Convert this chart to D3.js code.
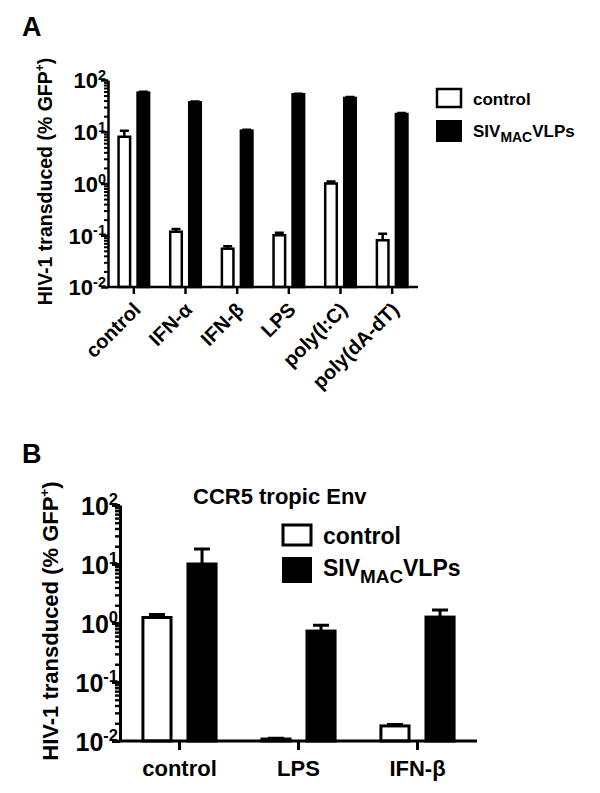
<!DOCTYPE html>
<html>
<head>
<meta charset="utf-8">
<script src="https://cdn.jsdelivr.net/npm/d3@7"></script>
<style>
  body { margin: 0; background: #fff; }
  svg text { font-family: "Liberation Sans", Arial, Helvetica, sans-serif; font-weight: bold; fill: #000; }
</style>
</head>
<body>
<svg width="600" height="793"></svg>
<script>
// panel A data
const catsA = ["control", "IFN-α", "IFN-β", "LPS", "poly(I:C)", "poly(dA-dT)"];
const ctrlA = [8.0, 0.117, 0.055, 0.10, 1.0, 0.08];
const ctrlErrA = [2.5, 0.015, 0.006, 0.012, 0.09, 0.027];
const sivA = [57, 37, 10.5, 53, 45, 22];
const sivErrA = [2, 1.5, 0.4, 1.5, 2, 1];

// panel B data
const catsB = ["control", "LPS", "IFN-β"];
const ctrlB = [1.24, 0.0108, 0.018];
const ctrlErrB = [0.16, 0.0003, 0.001];
const sivB = [10, 0.73, 1.26];
const sivErrB = [8, 0.19, 0.4];

const series = ["control", "siv"];
const majorTicks = [0.01, 0.1, 1, 10, 100];
const majorExp = ["-2", "-1", "0", "1", "2"];

const svg = d3.select("svg");

function panel(opt) {
    var g = svg.append("g");

    var x = d3.scaleBand().domain(opt.cats).range(opt.xr)
        .paddingInner(opt.padIn).paddingOuter(opt.padOut);
    var xs = d3.scaleBand().domain(series).range([0, x.bandwidth()]).paddingInner(opt.subPad);
    var y = d3.scaleLog().domain([0.01, 100]).range(opt.yr);

    var minors = [];
    for (var e = -2; e < 2; e++) {
        for (var m = 2; m <= 9; m++) minors.push(m * Math.pow(10, e));
    }

    var rows = opt.cats.map(function (c, i) {
        return [
            { cat: c, s: "control", v: opt.ctrl[i], err: opt.ctrlErr[i] },
            { cat: c, s: "siv", v: opt.siv[i], err: opt.sivErr[i] }
        ];
    }).flat();

    // error bars (upper only)
    g.selectAll(".err").data(rows).enter().append("path")
        .attr("d", function (d) {
            var cx = x(d.cat) + xs(d.s) + xs.bandwidth() / 2;
            var yt = y(d.v + d.err), yv = y(d.v);
            var hw = opt.cap / 2;
            return "M" + cx + "," + yv + "V" + yt + "M" + (cx - hw) + "," + yt + "H" + (cx + hw);
        })
        .attr("stroke", "#000").attr("stroke-width", opt.lw).attr("fill", "none");

    // bars
    g.selectAll(".bar").data(rows).enter().append("rect")
        .attr("x", function (d) { return x(d.cat) + xs(d.s) + opt.lw / 2; })
        .attr("width", xs.bandwidth() - opt.lw)
        .attr("y", function (d) { return y(d.v); })
        .attr("height", function (d) { return y(0.01) - y(d.v); })
        .attr("fill", function (d) { return d.s === "siv" ? "#000" : "#fff"; })
        .attr("stroke", "#000").attr("stroke-width", opt.lw);

    // y axis
    var ya = g.append("g").attr("transform", "translate(" + opt.xr[0] + ",0)")
        .call(d3.axisLeft(y).tickValues(majorTicks).tickFormat("").tickSize(opt.majorLen).tickSizeOuter(0));
    ya.selectAll("path,line").attr("stroke-width", opt.lw);
    var ym = g.append("g").attr("transform", "translate(" + opt.xr[0] + ",0)")
        .call(d3.axisLeft(y).tickValues(minors).tickFormat("").tickSize(opt.minorLen).tickSizeOuter(0));
    ym.select(".domain").remove();
    ym.selectAll("line").attr("stroke-width", opt.lw * 0.8);

    var tl = g.selectAll(".ylab").data(majorTicks).enter().append("text")
        .attr("x", opt.xr[0] - 2)
        .attr("y", function (d) { return y(d) + opt.tickFs * 0.38; })
        .attr("text-anchor", "end")
        .style("font-size", opt.tickFs + "px");
    tl.append("tspan").text("10");
    tl.append("tspan").text(function (d, i) { return majorExp[i]; })
        .attr("dy", -opt.tickFs * 0.38)
        .style("font-size", (opt.tickFs * 0.66) + "px");

    // x axis
    var xa = g.append("g").attr("transform", "translate(0," + y(0.01) + ")")
        .call(d3.axisBottom(x).tickFormat("").tickSize(opt.xTickLen).tickSizeOuter(0));
    xa.selectAll("path,line").attr("stroke-width", opt.lw);
    xa.select(".domain").attr("d", "M" + (opt.xr[0] - opt.lw / 2) + ",0H" + opt.xr[1]);

    // category labels
    var cl = g.selectAll(".xlab").data(opt.cats).enter().append("text")
        .text(function (d) { return d; })
        .style("font-size", opt.catFs + "px");
    if (opt.rotate) {
        cl.attr("text-anchor", "end")
            .attr("transform", function (d) {
                var cx = x(d) + x.bandwidth() / 2 + 8;
                return "translate(" + cx + "," + (y(0.01) + 24) + ") rotate(-45)";
            });
    } else {
        cl.attr("text-anchor", "middle")
            .attr("x", function (d) { return x(d) + x.bandwidth() / 2; })
            .attr("y", y(0.01) + 35);
    }

    // y axis title
    var yt = g.append("text")
        .attr("transform", "translate(" + opt.ytX + "," + ((opt.yr[0] + opt.yr[1]) / 2 - 2) + ") rotate(-90)")
        .attr("text-anchor", "middle")
        .style("font-size", opt.ytFs + "px");
    yt.append("tspan").text("HIV-1 transduced (% GFP");
    yt.append("tspan").text("+").attr("dy", -opt.ytFs * 0.4).style("font-size", (opt.ytFs * 0.62) + "px");
    yt.append("tspan").text(")").attr("dy", opt.ytFs * 0.4);

    // panel letter
    g.append("text").attr("x", opt.letter[0]).attr("y", opt.letter[1])
        .text(opt.name).style("font-size", "27px");

    // legend
    var lg = g.append("g");
    var lx = opt.leg.x, lw = opt.leg.w;
    lg.append("rect").attr("x", lx + 1).attr("y", opt.leg.y1 + 1)
        .attr("width", lw - 2).attr("height", opt.leg.h1 - 2)
        .attr("fill", "#fff").attr("stroke", "#000").attr("stroke-width", opt.lw);
    lg.append("rect").attr("x", lx).attr("y", opt.leg.y2)
        .attr("width", lw).attr("height", opt.leg.h2).attr("fill", "#000");
    lg.append("text").attr("x", opt.leg.tx).attr("y", opt.leg.b1)
        .text("control").style("font-size", opt.legFs + "px");
    var st = lg.append("text").attr("x", opt.leg.tx).attr("y", opt.leg.b2)
        .style("font-size", opt.legFs + "px");
    st.append("tspan").text("SIV");
    st.append("tspan").text("MAC").attr("dy", opt.legFs * 0.3).style("font-size", (opt.legFs * 0.82) + "px");
    st.append("tspan").text("VLPs").attr("dy", -opt.legFs * 0.3);

    return g;
}

panel({
    name: "A", letter: [22, 36],
    cats: catsA, ctrl: ctrlA, ctrlErr: ctrlErrA, siv: sivA, sivErr: sivErrA,
    xr: [108, 418], yr: [287, 80], padIn: 0.36, padOut: 0.18, subPad: 0.26,
    lw: 2.5, cap: 9, majorLen: 7, minorLen: 4, xTickLen: 7,
    tickFs: 22, catFs: 20, ytFs: 19.5, ytX: 52, legFs: 17, rotate: true,
    leg: { x: 436, w: 26, y1: 88, h1: 20, y2: 120, h2: 22, tx: 473, b1: 105, b2: 137 }
});

panel({
    name: "B", letter: [22, 463],
    cats: catsB, ctrl: ctrlB, ctrlErr: ctrlErrB, siv: sivB, sivErr: sivErrB,
    xr: [120, 477], yr: [741, 505], padIn: 0.36, padOut: 0.18, subPad: 0.31,
    lw: 3, cap: 16, majorLen: 8, minorLen: 5, xTickLen: 9,
    tickFs: 25, catFs: 22, ytFs: 22, ytX: 58, legFs: 23, rotate: false,
    leg: { x: 282, w: 30, y1: 524, h1: 22, y2: 557, h2: 26, tx: 323, b1: 544, b2: 576 }
});

svg.append("text").attr("x", 193).attr("y", 504)
    .text("CCR5 tropic Env").style("font-size", "22px");
</script>
</body>
</html>
